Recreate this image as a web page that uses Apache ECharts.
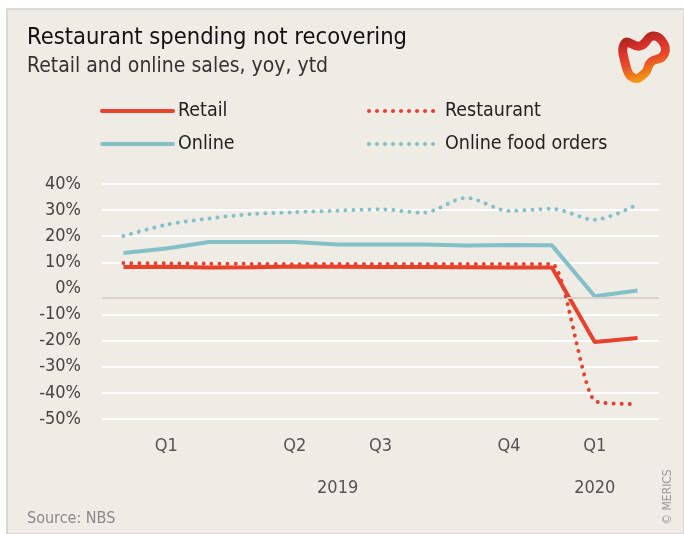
<!DOCTYPE html>
<html>
<head>
<meta charset="utf-8">
<script src="https://cdn.jsdelivr.net/npm/echarts@6/dist/echarts.min.js"></script>
<style>
  html, body { margin: 0; padding: 0; background: #fff; }
  #chart { width: 684px; height: 534px; }
</style>
</head>
<body>
<div id="chart"></div>
<script>
// monthly ytd points: Feb..Dec 2019, Feb..Mar 2020
const quarterLabels = ['', 'Q1', '', '', 'Q2', '', 'Q3', '', '', 'Q4', '', 'Q1', '']
const yearLabels = ['', '', '', '', '', '2019', '', '', '', '', '', '2020', '']
const retail = [8.2, 8.3, 8.0, 8.1, 8.4, 8.3, 8.2, 8.2, 8.1, 8.0, 8.0, -20.5, -19.0]
const restaurant = [9.7, 9.6, 9.5, 9.4, 9.3, 9.4, 9.4, 9.4, 9.4, 9.4, 9.4, -43.1, -44.3]
const online = [13.6, 15.3, 17.8, 17.8, 17.8, 16.8, 16.8, 16.8, 16.4, 16.6, 16.5, -3.0, -0.8]
const foodOrders = [20.1, 24.4, 26.8, 28.5, 29.2, 29.8, 30.3, 29.0, 34.7, 29.7, 30.5, 26.3, 32.2]
const baselineValue = -3.7

const RED = '#e8412c'
const TEAL = '#84c0c8'
const FONT = '"Liberation Sans Narrow", "DejaVu Sans Condensed", sans-serif'
const dots = [0.01, 8]

let chart = echarts.init(document.getElementById('chart'))
let gridColors = ['#fff', '#fff', '#fff', '#fff', '#fff', 'rgba(0,0,0,0)', '#fff', '#fff', '#fff', '#fff']

let legendBase = {
  orient: 'vertical', top: 101, padding: 0,
  itemWidth: 71, itemHeight: 20, itemGap: 13,
  itemStyle: { opacity: 0 },
  lineStyle: { width: 4, cap: 'round' },
  textStyle: { fontFamily: FONT, fontSize: 19.5, color: '#222' }
}

let options = {
  animation: false,
  textStyle: { fontFamily: FONT },
  graphic: [
    { type: 'rect', shape: { x: 7, y: 9, width: 677, height: 525 }, style: { fill: '#efebe5', stroke: '#d4d0cc', lineWidth: 1.5 }, z: -10 },
    {
      type: 'polygon', z: 10,
      shape: {
        smooth: 0.5,
        points: [[625, 43], [640, 46], [653, 36], [664, 44], [663, 56], [651, 62], [645, 73], [634, 78], [626, 66]]
      },
      style: {
        fill: 'none', lineWidth: 9,
        stroke: {
          type: 'linear', x: 0, y: 0, x2: 0.3, y2: 1,
          colorStops: [
            { offset: 0, color: '#8a1f14' },
            { offset: 0.4, color: '#d9312d' },
            { offset: 0.65, color: '#e64a2a' },
            { offset: 1, color: '#f39a12' }
          ]
        }
      }
    },
    { type: 'text', x: 27, y: 519, style: { text: 'Source: NBS', font: '16px ' + FONT, fill: '#8a8a8a', verticalAlign: 'middle' } },
    { type: 'text', x: 668, y: 497, rotation: Math.PI / 2, style: { text: '© MERICS', font: '12px ' + FONT, fill: '#9a9a9a', align: 'center', verticalAlign: 'middle' } }
  ],
  title: {
    text: 'Restaurant spending not recovering',
    subtext: 'Retail and online sales, yoy, ytd',
    left: 22, top: 21, itemGap: 6,
    textStyle: { fontFamily: FONT, fontSize: 23.5, fontWeight: 'normal', color: '#111' },
    subtextStyle: { fontFamily: FONT, fontSize: 21, color: '#333' }
  },
  legend: [
    Object.assign({}, legendBase, { data: ['Retail', 'Online'], left: 100 }),
    Object.assign({}, legendBase, { data: ['Restaurant', 'Online food orders'], left: 367 })
  ],
  grid: { left: 102, right: 25, top: 184, bottom: 115 },
  xAxis: [
    {
      type: 'category', data: quarterLabels,
      axisLine: { show: false }, axisTick: { show: false },
      axisLabel: { interval: 0, margin: 18, fontSize: 18, color: '#555', fontFamily: FONT }
    },
    {
      type: 'category', data: yearLabels, position: 'bottom', offset: 42,
      axisLine: { show: false }, axisTick: { show: false },
      axisLabel: { interval: 0, margin: 18, fontSize: 18, color: '#555', fontFamily: FONT }
    }
  ],
  yAxis: {
    type: 'value', min: -50, max: 40, interval: 10,
    axisLine: { show: false }, axisTick: { show: false },
    axisLabel: { formatter: '{value}%', margin: 21, fontSize: 18, color: '#444', fontFamily: FONT },
    splitLine: { lineStyle: { color: gridColors, width: 2 } }
  },
  series: [
    {
      name: 'Retail', type: 'line', data: retail, symbol: 'none', z: 4,
      lineStyle: { color: RED, width: 4 }, itemStyle: { color: RED },
      markLine: {
        silent: true, symbol: 'none', label: { show: false },
        lineStyle: { color: '#d6d1cc', width: 2, type: 'solid' },
        data: [{ yAxis: baselineValue }]
      }
    },
    {
      name: 'Online', type: 'line', data: online, symbol: 'none', z: 3,
      lineStyle: { color: TEAL, width: 4 }, itemStyle: { color: TEAL }
    },
    {
      name: 'Restaurant', type: 'line', data: restaurant, symbol: 'none', smooth: 0.2, z: 5,
      lineStyle: { color: RED, width: 4, type: dots, cap: 'round' }, itemStyle: { color: RED }
    },
    {
      name: 'Online food orders', type: 'line', data: foodOrders, symbol: 'none', smooth: 0.3, z: 2,
      lineStyle: { color: TEAL, width: 4, type: dots, cap: 'round' }, itemStyle: { color: TEAL }
    }
  ]
}
chart.setOption(options)
</script>
</body>
</html>
